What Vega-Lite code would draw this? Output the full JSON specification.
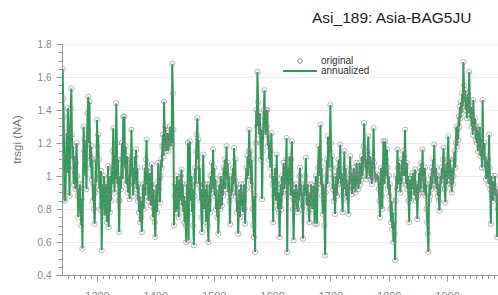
{
"$schema": "https://vega.github.io/schema/vega-lite/v6.json",
"autosize": "none",
"width": 436,
"height": 231,
"padding": {"left": 62, "top": 44, "right": 0, "bottom": 20},
"background": "white",
"config": {"view": {"stroke": null}, "font": "Liberation Sans"},
"title": {"text": "Asi_189: Asia-BAG5JU", "anchor": "start", "frame": "group", "dx": 250, "offset": 1, "baseline": "alphabetic", "fontSize": 15.5, "fontWeight": "normal", "font": "Liberation Sans", "color": "#222"},
"data": {"values": [
{"year":1241,"v":1.65},{"year":1242,"v":1.47},{"year":1243,"v":1.36},{"year":1244,"v":0.86},{"year":1245,"v":0.85},{"year":1246,"v":0.90},{"year":1247,"v":1.12},{"year":1248,"v":1.26},{"year":1249,"v":1.02},{"year":1250,"v":1.41},
{"year":1251,"v":1.20},{"year":1252,"v":1.05},{"year":1253,"v":0.88},{"year":1254,"v":1.30},{"year":1255,"v":1.41},{"year":1256,"v":1.53},{"year":1257,"v":1.25},{"year":1258,"v":1.10},{"year":1259,"v":1.18},{"year":1260,"v":0.95},
{"year":1261,"v":1.12},{"year":1262,"v":1.02},{"year":1263,"v":0.92},{"year":1264,"v":1.08},{"year":1265,"v":1.20},{"year":1266,"v":1.00},{"year":1267,"v":0.88},{"year":1268,"v":0.75},{"year":1269,"v":0.92},{"year":1270,"v":0.82},
{"year":1271,"v":0.95},{"year":1272,"v":0.78},{"year":1273,"v":0.70},{"year":1274,"v":0.86},{"year":1275,"v":0.56},{"year":1276,"v":0.95},{"year":1277,"v":1.30},{"year":1278,"v":1.15},{"year":1279,"v":1.22},{"year":1280,"v":1.00},
{"year":1281,"v":1.10},{"year":1282,"v":0.92},{"year":1283,"v":1.25},{"year":1284,"v":1.38},{"year":1285,"v":1.48},{"year":1286,"v":1.20},{"year":1287,"v":1.45},{"year":1288,"v":1.12},{"year":1289,"v":1.05},{"year":1290,"v":1.18},
{"year":1291,"v":0.98},{"year":1292,"v":1.10},{"year":1293,"v":0.85},{"year":1294,"v":0.95},{"year":1295,"v":0.80},{"year":1296,"v":0.71},{"year":1297,"v":0.90},{"year":1298,"v":1.10},{"year":1299,"v":0.96},{"year":1300,"v":1.34},
{"year":1301,"v":1.18},{"year":1302,"v":1.25},{"year":1303,"v":1.10},{"year":1304,"v":0.92},{"year":1305,"v":1.00},{"year":1306,"v":0.80},{"year":1307,"v":1.03},{"year":1308,"v":0.55},{"year":1309,"v":0.78},{"year":1310,"v":0.95},
{"year":1311,"v":0.85},{"year":1312,"v":1.00},{"year":1313,"v":0.76},{"year":1314,"v":0.90},{"year":1315,"v":0.82},{"year":1316,"v":0.95},{"year":1317,"v":0.72},{"year":1318,"v":0.88},{"year":1319,"v":1.06},{"year":1320,"v":0.69},
{"year":1321,"v":0.90},{"year":1322,"v":0.78},{"year":1323,"v":1.00},{"year":1324,"v":0.85},{"year":1325,"v":1.05},{"year":1326,"v":0.95},{"year":1327,"v":1.15},{"year":1328,"v":1.29},{"year":1329,"v":1.05},{"year":1330,"v":0.90},
{"year":1331,"v":1.12},{"year":1332,"v":0.98},{"year":1333,"v":1.44},{"year":1334,"v":1.20},{"year":1335,"v":0.95},{"year":1336,"v":1.10},{"year":1337,"v":0.85},{"year":1338,"v":0.66},{"year":1339,"v":0.85},{"year":1340,"v":1.00},
{"year":1341,"v":0.92},{"year":1342,"v":1.10},{"year":1343,"v":1.20},{"year":1344,"v":0.98},{"year":1345,"v":1.36},{"year":1346,"v":1.15},{"year":1347,"v":1.36},{"year":1348,"v":1.05},{"year":1349,"v":1.18},{"year":1350,"v":0.95},
{"year":1351,"v":1.05},{"year":1352,"v":1.12},{"year":1353,"v":0.90},{"year":1354,"v":1.00},{"year":1355,"v":0.95},{"year":1356,"v":0.86},{"year":1357,"v":1.10},{"year":1358,"v":1.00},{"year":1359,"v":1.28},{"year":1360,"v":1.10},
{"year":1361,"v":0.98},{"year":1362,"v":0.88},{"year":1363,"v":1.05},{"year":1364,"v":0.95},{"year":1365,"v":1.12},{"year":1366,"v":1.02},{"year":1367,"v":1.16},{"year":1368,"v":0.92},{"year":1369,"v":1.05},{"year":1370,"v":0.85},
{"year":1371,"v":0.95},{"year":1372,"v":0.78},{"year":1373,"v":0.88},{"year":1374,"v":0.72},{"year":1375,"v":0.85},{"year":1376,"v":0.75},{"year":1377,"v":0.66},{"year":1378,"v":0.82},{"year":1379,"v":0.95},{"year":1380,"v":0.80},
{"year":1381,"v":0.92},{"year":1382,"v":1.05},{"year":1383,"v":0.88},{"year":1384,"v":1.10},{"year":1385,"v":1.22},{"year":1386,"v":0.95},{"year":1387,"v":1.05},{"year":1388,"v":0.85},{"year":1389,"v":0.98},{"year":1390,"v":0.90},
{"year":1391,"v":1.02},{"year":1392,"v":0.82},{"year":1393,"v":0.95},{"year":1394,"v":1.07},{"year":1395,"v":0.88},{"year":1396,"v":0.75},{"year":1397,"v":0.92},{"year":1398,"v":0.80},{"year":1399,"v":0.72},{"year":1400,"v":0.63},
{"year":1401,"v":0.85},{"year":1402,"v":0.95},{"year":1403,"v":0.78},{"year":1404,"v":0.90},{"year":1405,"v":1.08},{"year":1406,"v":0.92},{"year":1407,"v":0.98},{"year":1408,"v":0.84},{"year":1409,"v":1.00},{"year":1410,"v":1.10},
{"year":1411,"v":1.05},{"year":1412,"v":1.18},{"year":1413,"v":1.25},{"year":1414,"v":1.12},{"year":1415,"v":1.45},{"year":1416,"v":1.22},{"year":1417,"v":1.30},{"year":1418,"v":1.15},{"year":1419,"v":1.20},{"year":1420,"v":1.18},
{"year":1421,"v":1.26},{"year":1422,"v":1.15},{"year":1423,"v":1.22},{"year":1424,"v":1.19},{"year":1425,"v":1.30},{"year":1426,"v":1.18},{"year":1427,"v":1.25},{"year":1428,"v":1.20},{"year":1429,"v":1.68},{"year":1430,"v":1.50},
{"year":1431,"v":1.28},{"year":1432,"v":0.70},{"year":1433,"v":0.88},{"year":1434,"v":0.95},{"year":1435,"v":0.78},{"year":1436,"v":0.85},{"year":1437,"v":1.00},{"year":1438,"v":0.80},{"year":1439,"v":0.92},{"year":1440,"v":0.75},
{"year":1441,"v":0.98},{"year":1442,"v":0.85},{"year":1443,"v":0.90},{"year":1444,"v":1.00},{"year":1445,"v":1.04},{"year":1446,"v":0.82},{"year":1447,"v":0.95},{"year":1448,"v":0.78},{"year":1449,"v":0.88},{"year":1450,"v":0.72},
{"year":1451,"v":0.85},{"year":1452,"v":0.70},{"year":1453,"v":0.60},{"year":1454,"v":0.95},{"year":1455,"v":0.82},{"year":1456,"v":1.20},{"year":1457,"v":0.61},{"year":1458,"v":0.90},{"year":1459,"v":1.21},{"year":1460,"v":0.95},
{"year":1461,"v":0.85},{"year":1462,"v":1.00},{"year":1463,"v":0.78},{"year":1464,"v":0.92},{"year":1465,"v":0.70},{"year":1466,"v":0.58},{"year":1467,"v":0.88},{"year":1468,"v":1.05},{"year":1469,"v":0.95},{"year":1470,"v":1.15},
{"year":1471,"v":1.25},{"year":1472,"v":1.35},{"year":1473,"v":1.10},{"year":1474,"v":1.22},{"year":1475,"v":0.95},{"year":1476,"v":1.05},{"year":1477,"v":0.85},{"year":1478,"v":0.92},{"year":1479,"v":0.75},{"year":1480,"v":0.66},
{"year":1481,"v":0.88},{"year":1482,"v":1.13},{"year":1483,"v":0.95},{"year":1484,"v":0.80},{"year":1485,"v":0.92},{"year":1486,"v":0.85},{"year":1487,"v":0.72},{"year":1488,"v":0.95},{"year":1489,"v":0.82},{"year":1490,"v":0.70},
{"year":1491,"v":0.60},{"year":1492,"v":0.85},{"year":1493,"v":0.95},{"year":1494,"v":0.78},{"year":1495,"v":1.00},{"year":1496,"v":0.90},{"year":1497,"v":1.08},{"year":1498,"v":0.95},{"year":1499,"v":1.16},{"year":1500,"v":0.92},
{"year":1501,"v":1.05},{"year":1502,"v":0.88},{"year":1503,"v":0.98},{"year":1504,"v":0.80},{"year":1505,"v":0.92},{"year":1506,"v":0.75},{"year":1507,"v":0.85},{"year":1508,"v":0.65},{"year":1509,"v":0.88},{"year":1510,"v":0.95},
{"year":1511,"v":0.80},{"year":1512,"v":1.00},{"year":1513,"v":0.90},{"year":1514,"v":0.82},{"year":1515,"v":0.98},{"year":1516,"v":0.88},{"year":1517,"v":1.05},{"year":1518,"v":0.95},{"year":1519,"v":1.10},{"year":1520,"v":0.92},
{"year":1521,"v":1.05},{"year":1522,"v":1.18},{"year":1523,"v":0.98},{"year":1524,"v":1.08},{"year":1525,"v":0.90},{"year":1526,"v":1.00},{"year":1527,"v":0.85},{"year":1528,"v":0.71},{"year":1529,"v":0.92},{"year":1530,"v":0.88},
{"year":1531,"v":1.00},{"year":1532,"v":0.90},{"year":1533,"v":1.05},{"year":1534,"v":0.95},{"year":1535,"v":1.17},{"year":1536,"v":0.98},{"year":1537,"v":1.10},{"year":1538,"v":0.88},{"year":1539,"v":0.95},{"year":1540,"v":0.78},
{"year":1541,"v":0.85},{"year":1542,"v":0.65},{"year":1543,"v":0.80},{"year":1544,"v":0.92},{"year":1545,"v":0.75},{"year":1546,"v":0.88},{"year":1547,"v":0.95},{"year":1548,"v":0.82},{"year":1549,"v":0.90},{"year":1550,"v":0.78},
{"year":1551,"v":0.88},{"year":1552,"v":0.95},{"year":1553,"v":0.80},{"year":1554,"v":0.71},{"year":1555,"v":0.92},{"year":1556,"v":1.05},{"year":1557,"v":0.98},{"year":1558,"v":1.12},{"year":1559,"v":1.00},{"year":1560,"v":1.15},
{"year":1561,"v":1.28},{"year":1562,"v":1.05},{"year":1563,"v":1.15},{"year":1564,"v":0.95},{"year":1565,"v":1.10},{"year":1566,"v":0.92},{"year":1567,"v":0.80},{"year":1568,"v":0.70},{"year":1569,"v":0.63},{"year":1570,"v":0.88},
{"year":1571,"v":0.54},{"year":1572,"v":1.20},{"year":1573,"v":1.40},{"year":1574,"v":1.30},{"year":1575,"v":1.63},{"year":1576,"v":1.45},{"year":1577,"v":1.35},{"year":1578,"v":1.25},{"year":1579,"v":1.38},{"year":1580,"v":1.20},
{"year":1581,"v":1.10},{"year":1582,"v":1.28},{"year":1583,"v":0.86},{"year":1584,"v":1.15},{"year":1585,"v":1.30},{"year":1586,"v":1.40},{"year":1587,"v":1.52},{"year":1588,"v":1.35},{"year":1589,"v":1.25},{"year":1590,"v":1.40},
{"year":1591,"v":1.30},{"year":1592,"v":1.40},{"year":1593,"v":1.18},{"year":1594,"v":1.25},{"year":1595,"v":1.10},{"year":1596,"v":1.20},{"year":1597,"v":1.05},{"year":1598,"v":1.15},{"year":1599,"v":1.26},{"year":1600,"v":1.00},
{"year":1601,"v":0.95},{"year":1602,"v":0.72},{"year":1603,"v":1.00},{"year":1604,"v":0.88},{"year":1605,"v":1.05},{"year":1606,"v":0.92},{"year":1607,"v":0.85},{"year":1608,"v":1.13},{"year":1609,"v":0.95},{"year":1610,"v":0.80},
{"year":1611,"v":0.90},{"year":1612,"v":0.78},{"year":1613,"v":0.63},{"year":1614,"v":0.85},{"year":1615,"v":0.95},{"year":1616,"v":0.80},{"year":1617,"v":1.00},{"year":1618,"v":0.88},{"year":1619,"v":0.98},{"year":1620,"v":1.08},
{"year":1621,"v":0.92},{"year":1622,"v":1.05},{"year":1623,"v":0.95},{"year":1624,"v":1.10},{"year":1625,"v":1.23},{"year":1626,"v":0.54},{"year":1627,"v":0.90},{"year":1628,"v":1.05},{"year":1629,"v":0.95},{"year":1630,"v":1.12},
{"year":1631,"v":1.00},{"year":1632,"v":0.88},{"year":1633,"v":1.10},{"year":1634,"v":1.21},{"year":1635,"v":0.95},{"year":1636,"v":0.80},{"year":1637,"v":0.61},{"year":1638,"v":0.85},{"year":1639,"v":0.92},{"year":1640,"v":0.84},
{"year":1641,"v":0.95},{"year":1642,"v":0.80},{"year":1643,"v":0.90},{"year":1644,"v":0.78},{"year":1645,"v":0.92},{"year":1646,"v":0.85},{"year":1647,"v":1.00},{"year":1648,"v":1.05},{"year":1649,"v":0.88},{"year":1650,"v":0.95},
{"year":1651,"v":0.80},{"year":1652,"v":0.90},{"year":1653,"v":0.62},{"year":1654,"v":0.85},{"year":1655,"v":0.95},{"year":1656,"v":0.88},{"year":1657,"v":1.00},{"year":1658,"v":1.11},{"year":1659,"v":0.90},{"year":1660,"v":0.82},
{"year":1661,"v":0.95},{"year":1662,"v":0.85},{"year":1663,"v":0.78},{"year":1664,"v":0.72},{"year":1665,"v":0.90},{"year":1666,"v":0.82},{"year":1667,"v":0.95},{"year":1668,"v":0.88},{"year":1669,"v":0.80},{"year":1670,"v":0.90},
{"year":1671,"v":0.94},{"year":1672,"v":0.85},{"year":1673,"v":0.71},{"year":1674,"v":0.88},{"year":1675,"v":1.00},{"year":1676,"v":0.92},{"year":1677,"v":0.71},{"year":1678,"v":0.95},{"year":1679,"v":1.05},{"year":1680,"v":1.18},
{"year":1681,"v":1.00},{"year":1682,"v":1.10},{"year":1683,"v":1.31},{"year":1684,"v":0.95},{"year":1685,"v":1.05},{"year":1686,"v":0.88},{"year":1687,"v":0.77},{"year":1688,"v":0.95},{"year":1689,"v":0.85},{"year":1690,"v":0.70},
{"year":1691,"v":0.52},{"year":1692,"v":0.90},{"year":1693,"v":1.00},{"year":1694,"v":1.10},{"year":1695,"v":0.95},{"year":1696,"v":1.24},{"year":1697,"v":1.05},{"year":1698,"v":1.20},{"year":1699,"v":1.15},{"year":1700,"v":1.43},
{"year":1701,"v":1.20},{"year":1702,"v":1.05},{"year":1703,"v":1.12},{"year":1704,"v":0.92},{"year":1705,"v":1.00},{"year":1706,"v":0.85},{"year":1707,"v":0.95},{"year":1708,"v":0.77},{"year":1709,"v":0.90},{"year":1710,"v":1.00},
{"year":1711,"v":0.88},{"year":1712,"v":1.05},{"year":1713,"v":0.95},{"year":1714,"v":1.10},{"year":1715,"v":0.98},{"year":1716,"v":1.05},{"year":1717,"v":1.19},{"year":1718,"v":0.95},{"year":1719,"v":1.02},{"year":1720,"v":0.88},
{"year":1721,"v":0.78},{"year":1722,"v":0.95},{"year":1723,"v":1.00},{"year":1724,"v":1.15},{"year":1725,"v":0.92},{"year":1726,"v":1.05},{"year":1727,"v":0.88},{"year":1728,"v":0.98},{"year":1729,"v":0.85},{"year":1730,"v":0.92},
{"year":1731,"v":0.77},{"year":1732,"v":0.95},{"year":1733,"v":1.00},{"year":1734,"v":1.12},{"year":1735,"v":0.95},{"year":1736,"v":1.02},{"year":1737,"v":0.89},{"year":1738,"v":1.00},{"year":1739,"v":0.92},{"year":1740,"v":1.05},
{"year":1741,"v":0.95},{"year":1742,"v":1.02},{"year":1743,"v":0.90},{"year":1744,"v":1.00},{"year":1745,"v":1.08},{"year":1746,"v":0.95},{"year":1747,"v":1.02},{"year":1748,"v":0.92},{"year":1749,"v":1.00},{"year":1750,"v":1.08},
{"year":1751,"v":0.95},{"year":1752,"v":1.05},{"year":1753,"v":0.98},{"year":1754,"v":1.12},{"year":1755,"v":1.00},{"year":1756,"v":1.10},{"year":1757,"v":1.18},{"year":1758,"v":1.32},{"year":1759,"v":1.15},{"year":1760,"v":1.05},
{"year":1761,"v":1.10},{"year":1762,"v":0.98},{"year":1763,"v":1.05},{"year":1764,"v":1.15},{"year":1765,"v":1.24},{"year":1766,"v":1.08},{"year":1767,"v":1.00},{"year":1768,"v":1.12},{"year":1769,"v":0.98},{"year":1770,"v":1.05},
{"year":1771,"v":0.95},{"year":1772,"v":1.10},{"year":1773,"v":1.05},{"year":1774,"v":1.29},{"year":1775,"v":1.08},{"year":1776,"v":0.99},{"year":1777,"v":1.00},{"year":1778,"v":0.98},{"year":1779,"v":0.99},{"year":1780,"v":1.01},
{"year":1781,"v":0.98},{"year":1782,"v":1.00},{"year":1783,"v":0.92},{"year":1784,"v":0.85},{"year":1785,"v":0.75},{"year":1786,"v":0.95},{"year":1787,"v":1.05},{"year":1788,"v":0.88},{"year":1789,"v":0.80},{"year":1790,"v":1.00},
{"year":1791,"v":1.21},{"year":1792,"v":1.05},{"year":1793,"v":0.95},{"year":1794,"v":1.21},{"year":1795,"v":1.10},{"year":1796,"v":1.00},{"year":1797,"v":1.16},{"year":1798,"v":1.05},{"year":1799,"v":0.92},{"year":1800,"v":1.00},
{"year":1801,"v":0.88},{"year":1802,"v":0.95},{"year":1803,"v":0.80},{"year":1804,"v":0.72},{"year":1805,"v":0.85},{"year":1806,"v":0.68},{"year":1807,"v":0.78},{"year":1808,"v":0.60},{"year":1809,"v":0.72},{"year":1810,"v":0.65},
{"year":1811,"v":0.49},{"year":1812,"v":0.85},{"year":1813,"v":1.00},{"year":1814,"v":0.92},{"year":1815,"v":1.16},{"year":1816,"v":1.05},{"year":1817,"v":0.95},{"year":1818,"v":1.08},{"year":1819,"v":0.98},{"year":1820,"v":0.90},
{"year":1821,"v":1.02},{"year":1822,"v":0.95},{"year":1823,"v":1.10},{"year":1824,"v":1.05},{"year":1825,"v":1.15},{"year":1826,"v":1.00},{"year":1827,"v":1.12},{"year":1828,"v":1.28},{"year":1829,"v":1.05},{"year":1830,"v":0.95},
{"year":1831,"v":1.08},{"year":1832,"v":0.92},{"year":1833,"v":1.00},{"year":1834,"v":0.85},{"year":1835,"v":0.72},{"year":1836,"v":0.90},{"year":1837,"v":0.98},{"year":1838,"v":0.85},{"year":1839,"v":0.95},{"year":1840,"v":1.00},
{"year":1841,"v":0.92},{"year":1842,"v":1.02},{"year":1843,"v":0.95},{"year":1844,"v":0.88},{"year":1845,"v":1.04},{"year":1846,"v":0.90},{"year":1847,"v":0.85},{"year":1848,"v":0.95},{"year":1849,"v":0.74},{"year":1850,"v":0.88},
{"year":1851,"v":0.95},{"year":1852,"v":1.02},{"year":1853,"v":0.90},{"year":1854,"v":1.05},{"year":1855,"v":0.92},{"year":1856,"v":1.08},{"year":1857,"v":0.98},{"year":1858,"v":1.16},{"year":1859,"v":1.00},{"year":1860,"v":0.90},
{"year":1861,"v":0.98},{"year":1862,"v":1.05},{"year":1863,"v":0.88},{"year":1864,"v":0.95},{"year":1865,"v":0.80},{"year":1866,"v":0.72},{"year":1867,"v":0.65},{"year":1868,"v":0.54},{"year":1869,"v":0.85},{"year":1870,"v":0.95},
{"year":1871,"v":0.88},{"year":1872,"v":1.00},{"year":1873,"v":0.92},{"year":1874,"v":1.05},{"year":1875,"v":0.95},{"year":1876,"v":1.10},{"year":1877,"v":1.00},{"year":1878,"v":1.19},{"year":1879,"v":1.02},{"year":1880,"v":0.95},
{"year":1881,"v":1.05},{"year":1882,"v":0.92},{"year":1883,"v":1.00},{"year":1884,"v":0.88},{"year":1885,"v":0.95},{"year":1886,"v":0.85},{"year":1887,"v":0.79},{"year":1888,"v":0.92},{"year":1889,"v":1.00},{"year":1890,"v":0.95},
{"year":1891,"v":1.05},{"year":1892,"v":0.98},{"year":1893,"v":1.10},{"year":1894,"v":1.17},{"year":1895,"v":1.00},{"year":1896,"v":0.92},{"year":1897,"v":0.84},{"year":1898,"v":1.00},{"year":1899,"v":1.08},{"year":1900,"v":0.95},
{"year":1901,"v":1.10},{"year":1902,"v":1.24},{"year":1903,"v":1.05},{"year":1904,"v":0.98},{"year":1905,"v":1.10},{"year":1906,"v":0.95},{"year":1907,"v":1.00},{"year":1908,"v":0.90},{"year":1909,"v":1.05},{"year":1910,"v":0.95},
{"year":1911,"v":1.00},{"year":1912,"v":1.10},{"year":1913,"v":1.15},{"year":1914,"v":1.05},{"year":1915,"v":1.20},{"year":1916,"v":1.30},{"year":1917,"v":1.18},{"year":1918,"v":1.28},{"year":1919,"v":1.22},{"year":1920,"v":1.36},
{"year":1921,"v":1.30},{"year":1922,"v":1.42},{"year":1923,"v":1.35},{"year":1924,"v":1.45},{"year":1925,"v":1.38},{"year":1926,"v":1.50},{"year":1927,"v":1.42},{"year":1928,"v":1.69},{"year":1929,"v":1.55},{"year":1930,"v":1.45},
{"year":1931,"v":1.52},{"year":1932,"v":1.40},{"year":1933,"v":1.48},{"year":1934,"v":1.35},{"year":1935,"v":1.42},{"year":1936,"v":1.50},{"year":1937,"v":1.38},{"year":1938,"v":1.63},{"year":1939,"v":1.45},{"year":1940,"v":1.35},
{"year":1941,"v":1.42},{"year":1942,"v":1.30},{"year":1943,"v":1.38},{"year":1944,"v":1.25},{"year":1945,"v":1.46},{"year":1946,"v":1.32},{"year":1947,"v":1.28},{"year":1948,"v":1.35},{"year":1949,"v":1.22},{"year":1950,"v":1.30},
{"year":1951,"v":1.20},{"year":1952,"v":1.28},{"year":1953,"v":1.15},{"year":1954,"v":1.25},{"year":1955,"v":1.18},{"year":1956,"v":1.30},{"year":1957,"v":1.12},{"year":1958,"v":1.22},{"year":1959,"v":1.15},{"year":1960,"v":1.05},
{"year":1961,"v":1.46},{"year":1962,"v":1.17},{"year":1963,"v":1.10},{"year":1964,"v":1.20},{"year":1965,"v":1.05},{"year":1966,"v":1.12},{"year":1967,"v":0.98},{"year":1968,"v":1.08},{"year":1969,"v":1.00},{"year":1970,"v":1.10},
{"year":1971,"v":0.95},{"year":1972,"v":1.25},{"year":1973,"v":1.05},{"year":1974,"v":0.92},{"year":1975,"v":0.71},{"year":1976,"v":1.00},{"year":1977,"v":0.90},{"year":1978,"v":0.97},{"year":1979,"v":0.85},{"year":1980,"v":0.95},
{"year":1981,"v":0.90},{"year":1982,"v":1.00},{"year":1983,"v":0.88},{"year":1984,"v":0.92},{"year":1985,"v":0.86},{"year":1986,"v":0.63},{"year":1987,"v":0.80},{"year":1988,"v":0.90},{"year":1989,"v":0.85},{"year":1990,"v":0.92}
]},
"encoding": {
  "x": {"field": "year", "type": "quantitative",
    "scale": {"domain": [1240, 1987.3], "nice": false, "zero": false},
    "axis": {"title": null, "grid": false, "values": [1250,1260,1270,1280,1290,1300,1310,1320,1330,1340,1350,1360,1370,1380,1390,1400,1410,1420,1430,1440,1450,1460,1470,1480,1490,1500,1510,1520,1530,1540,1550,1560,1570,1580,1590,1600,1610,1620,1630,1640,1650,1660,1670,1680,1690,1700,1710,1720,1730,1740,1750,1760,1770,1780,1790,1800,1810,1820,1830,1840,1850,1860,1870,1880,1890,1900,1910,1920,1930,1940,1950,1960,1970,1980],
      "format": "d", "labelExpr": "datum.value % 100 === 0 ? datum.label : ''",
      "tickSize": {"condition": {"test": "datum.value % 100 === 0", "value": 6}, "value": 3.5},
      "domainColor": "#999", "tickColor": "#999", "labelColor": "#888", "labelFontSize": 11, "labelPadding": 9, "labelFont": "Liberation Sans"}},
  "y": {"field": "v", "type": "quantitative",
    "scale": {"domain": [0.4, 1.8], "nice": false, "zero": false},
    "axis": {"title": "trsgi (NA)", "values": [0.4,0.45,0.5,0.55,0.6,0.65,0.7,0.75,0.8,0.85,0.9,0.95,1,1.05,1.1,1.15,1.2,1.25,1.3,1.35,1.4,1.45,1.5,1.55,1.6,1.65,1.7,1.75,1.8],
      "labelExpr": "abs(datum.value*5 - round(datum.value*5)) < 0.01 ? format(datum.value, '~g') : ''",
      "tickSize": {"condition": {"test": "abs(datum.value*5 - round(datum.value*5)) < 0.01", "value": 6}, "value": 3.5},
      "gridOpacity": {"condition": {"test": "abs(datum.value*5 - round(datum.value*5)) < 0.01", "value": 1}, "value": 0},
      "gridColor": "#ececec", "domainColor": "#999", "tickColor": "#999", "labelColor": "#888", "labelFontSize": 10, "labelPadding": 5, "labelFont": "Liberation Sans",
      "titleFont": "Liberation Sans", "titleFontSize": 11.5, "titleFontWeight": "normal", "titleColor": "#777", "titleX": -45, "titleY": 95, "titleAlign": "center", "titleBaseline": "middle"}}
},
"layer": [
  {"mark": {"type": "line", "strokeWidth": 2, "clip": true},
   "encoding": {"color": {"datum": "annualized", "type": "nominal", "scale": {"domain": ["original", "annualized"], "range": ["#888888", "#2e9a58"]},
     "legend": {"title": null, "orient": "none", "legendX": 233, "legendY": 12, "labelFontSize": 10, "labelColor": "#333", "labelFont": "Liberation Sans", "symbolSize": 30, "labelOffset": 16, "rowPadding": 0,
       "encode": {"symbols": {"update": {"shape": {"signal": "datum.value === 'original' ? 'circle' : 'stroke'"}, "size": {"signal": "datum.value === 'original' ? 20 : 1150"}, "strokeWidth": {"signal": "datum.value === 'original' ? 1 : 2.2"}, "fill": {"value": "transparent"}, "stroke": {"signal": "datum.value === 'original' ? '#888888' : '#2e9a58'"}}}}}}}},
  {"mark": {"type": "point", "filled": false, "size": 28, "strokeWidth": 0.8, "opacity": 0.75, "clip": true},
   "encoding": {"color": {"datum": "original", "type": "nominal"}}}
]
}
